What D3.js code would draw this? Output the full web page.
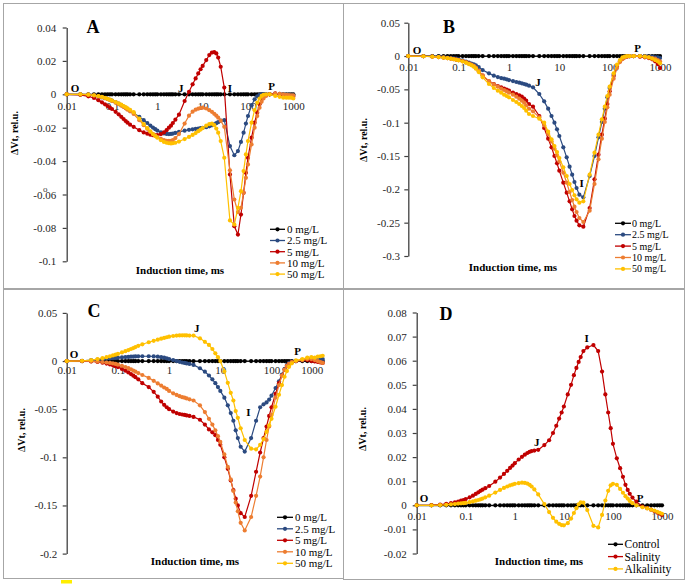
<!DOCTYPE html>
<html><head><meta charset="utf-8">
<script src="https://cdn.jsdelivr.net/npm/d3@7"></script>
<style>body{margin:0;background:#fff} svg{display:block} text{font-family:'Liberation Serif','Times New Roman',serif}</style>
</head><body>
<svg id="c" width="685" height="586"></svg>
<script>
// ---- shared induction time points (ms) ----
const times = [
  0.01,0.02,0.03,0.04,0.05,0.06,0.07,0.08,0.09,0.1,0.12,0.14,0.16,0.18,0.2,0.22,0.25,0.3,
  0.4,0.5,0.6,0.7,0.8,0.9,1,1.2,1.4,1.6,1.8,2,2.2,2.5,3,
  4,5,6,7,8,9,10,12,14,16,18,20,22,25,30,
  40,50,60,70,80,90,100,120,140,160,180,200,220,250,300,
  400,500,600,700,800,900,1000
];
const xTickValues = [0.01,0.1,1,10,100,1000];
const legendConc = ["0 mg/L","2.5 mg/L","5 mg/L","10 mg/L","50 mg/L"];
const legendD = ["Control","Salinity","Alkalinity"];

// control / 0 mg/L series (all zero)
const zeroSeries = [
  0,0,0,0,0,0,0,0,0,0,0,0,0,0,0,0,0,0,
  0,0,0,0,0,0,0,0,0,0,0,0,0,0,0,
  0,0,0,0,0,0,0,0,0,0,0,0,0,0,0,
  0,0,0,0,0,0,0,0,0,0,0,0,0,0,0,
  0,0,0,0,0,0,0
];

// ---- Panel A ----
const yTicksA = [0.04,0.02,0,-0.02,-0.04,-0.06,-0.08,-0.1];
const aBlue = [
  0,-0.0001,-0.0004,-0.0008,-0.0013,-0.0018,-0.0023,-0.0028,-0.0033,-0.0038,-0.0047,-0.0056,-0.0065,-0.0073,-0.0081,-0.0088,-0.0098,-0.0112,
  -0.0135,-0.0155,-0.0172,-0.0187,-0.0199,-0.0209,-0.0217,-0.0228,-0.0234,-0.0237,-0.0238,-0.0237,-0.0235,-0.0231,-0.0225,
  -0.0218,-0.0213,-0.021,-0.0207,-0.0205,-0.0203,-0.0201,-0.0197,-0.0192,-0.0186,-0.018,-0.0173,-0.0167,-0.0158,-0.0155,
  -0.031,-0.0365,-0.034,-0.0285,-0.023,-0.0175,-0.013,-0.0065,-0.003,-0.0012,-0.0004,0,0,0,0,
  0.0003,0.0002,0,-0.0003,-0.0005,-0.0006,-0.0007
];
const aRed = [
  0,-0.0003,-0.0012,-0.0022,-0.0035,-0.0048,-0.006,-0.007,-0.008,-0.0088,-0.0105,-0.012,-0.0135,-0.0148,-0.016,-0.017,-0.0182,-0.0195,
  -0.0215,-0.0228,-0.0236,-0.0242,-0.0245,-0.0246,-0.0245,-0.0238,-0.0228,-0.0215,-0.02,-0.0188,-0.0172,-0.0152,-0.0122,
  -0.004,0.0015,0.006,0.0095,0.0125,0.015,0.017,0.0205,0.0235,0.025,0.0252,0.0245,0.022,0.0165,0.004,
  -0.048,-0.079,-0.084,-0.072,-0.059,-0.047,-0.038,-0.026,-0.017,-0.011,-0.006,-0.003,-0.0015,-0.0005,0,
  0.0005,0,-0.0005,-0.001,-0.0012,-0.0015,-0.0015
];
const aOrange = [
  0,0,-0.0002,-0.0006,-0.0011,-0.0017,-0.0023,-0.0029,-0.0035,-0.004,-0.005,-0.0059,-0.0068,-0.0076,-0.0084,-0.0092,-0.0102,-0.0118,
  -0.0155,-0.0185,-0.0207,-0.0225,-0.0238,-0.0248,-0.0256,-0.0267,-0.0274,-0.0278,-0.0279,-0.0278,-0.0274,-0.0262,-0.0238,
  -0.0175,-0.0128,-0.0104,-0.0092,-0.0086,-0.0082,-0.008,-0.0085,-0.0095,-0.0105,-0.0117,-0.0128,-0.014,-0.0158,-0.0195,
  -0.0455,-0.063,-0.0705,-0.068,-0.059,-0.05,-0.042,-0.03,-0.02,-0.013,-0.008,-0.0045,-0.0025,-0.001,0,
  0.0004,0.0003,0,-0.0003,-0.0005,-0.0006,-0.0006
];
const aYellow = [
  0,0,-0.0002,-0.0006,-0.0011,-0.0016,-0.0021,-0.0027,-0.0032,-0.0037,-0.0046,-0.0054,-0.0062,-0.007,-0.0077,-0.0084,-0.0093,-0.0107,
  -0.0145,-0.0178,-0.0203,-0.0222,-0.0238,-0.025,-0.026,-0.0275,-0.0285,-0.029,-0.0293,-0.0294,-0.0293,-0.029,-0.0283,
  -0.0268,-0.0255,-0.0243,-0.0232,-0.0221,-0.0211,-0.0202,-0.0188,-0.0178,-0.0176,-0.0185,-0.0205,-0.023,-0.028,-0.038,
  -0.0755,-0.078,-0.068,-0.058,-0.046,-0.036,-0.028,-0.017,-0.0095,-0.005,-0.0025,-0.001,-0.0003,0,0,
  -0.001,-0.0015,-0.002,-0.002,-0.002,-0.002,-0.0025
];

// ---- Panel B ----
const yTicksB = [0.05,0,-0.05,-0.1,-0.15,-0.2,-0.25,-0.3];
const bBlue = [
  0,-0.0002,-0.0006,-0.001,-0.0016,-0.0022,-0.0028,-0.0034,-0.004,-0.005,-0.0066,-0.0082,-0.0098,-0.0112,-0.0125,-0.014,-0.0165,-0.021,
  -0.026,-0.0295,-0.0315,-0.033,-0.034,-0.035,-0.036,-0.0375,-0.039,-0.04,-0.041,-0.042,-0.043,-0.0445,-0.047,
  -0.057,-0.068,-0.079,-0.09,-0.1,-0.11,-0.12,-0.137,-0.152,-0.166,-0.178,-0.189,-0.198,-0.208,-0.212,
  -0.18,-0.15,-0.122,-0.099,-0.079,-0.062,-0.048,-0.028,-0.015,-0.007,-0.003,-0.0015,-0.0007,-0.0002,0,
  0,0,-0.001,-0.001,-0.002,-0.002,-0.003
];
const bRed = [
  0,-0.0003,-0.0008,-0.0015,-0.0023,-0.003,-0.0038,-0.0046,-0.0054,-0.0062,-0.0078,-0.0095,-0.0113,-0.0132,-0.015,-0.018,-0.0225,-0.0295,
  -0.038,-0.042,-0.045,-0.047,-0.049,-0.0505,-0.052,-0.055,-0.057,-0.059,-0.061,-0.064,-0.067,-0.072,-0.076,
  -0.09,-0.108,-0.124,-0.137,-0.15,-0.161,-0.172,-0.19,-0.205,-0.218,-0.23,-0.24,-0.247,-0.254,-0.256,
  -0.228,-0.185,-0.148,-0.118,-0.094,-0.072,-0.053,-0.03,-0.016,-0.008,-0.004,-0.002,-0.001,-0.0003,0,
  -0.001,-0.002,-0.003,-0.005,-0.008,-0.012,-0.018
];
const bOrange = [
  0,-0.0003,-0.0008,-0.0015,-0.0022,-0.003,-0.0037,-0.0045,-0.0053,-0.006,-0.0077,-0.0094,-0.0112,-0.013,-0.0148,-0.0175,-0.022,-0.029,
  -0.0375,-0.0425,-0.046,-0.049,-0.051,-0.053,-0.055,-0.058,-0.061,-0.064,-0.067,-0.07,-0.074,-0.079,-0.083,
  -0.092,-0.104,-0.117,-0.128,-0.139,-0.149,-0.158,-0.175,-0.19,-0.204,-0.216,-0.226,-0.234,-0.243,-0.249,
  -0.232,-0.192,-0.155,-0.124,-0.099,-0.077,-0.058,-0.034,-0.018,-0.009,-0.0045,-0.002,-0.001,-0.0003,0,
  0,-0.001,-0.002,-0.003,-0.004,-0.006,-0.008
];
const bYellow = [
  0,-0.0003,-0.0009,-0.0016,-0.0024,-0.0032,-0.004,-0.0048,-0.0056,-0.0065,-0.0082,-0.01,-0.012,-0.014,-0.016,-0.019,-0.024,-0.032,
  -0.042,-0.048,-0.052,-0.055,-0.058,-0.06,-0.062,-0.066,-0.069,-0.072,-0.075,-0.078,-0.082,-0.087,-0.09,
  -0.094,-0.1,-0.1135,-0.125,-0.135,-0.144,-0.153,-0.167,-0.18,-0.192,-0.201,-0.209,-0.215,-0.22,-0.218,
  -0.178,-0.145,-0.118,-0.095,-0.076,-0.06,-0.046,-0.026,-0.013,-0.006,-0.002,-0.001,0,0,0,
  0,-0.001,-0.002,-0.004,-0.006,-0.008,-0.011
];

// ---- Panel C ----
const yTicksC = [0.05,0,-0.05,-0.1,-0.15,-0.2];
const cBlue = [
  0,0.0003,0.001,0.0015,0.002,0.0024,0.0027,0.003,0.0032,0.0035,0.0038,0.0041,0.0043,0.0045,0.0046,0.0048,0.0049,0.005,
  0.005,0.0048,0.0045,0.004,0.0035,0.0028,0.002,0.001,0,-0.0008,-0.0015,-0.002,-0.0025,-0.003,-0.004,
  -0.0075,-0.011,-0.015,-0.019,-0.023,-0.027,-0.031,-0.038,-0.046,-0.054,-0.062,-0.072,-0.08,-0.089,-0.094,
  -0.08,-0.062,-0.048,-0.045,-0.043,-0.04,-0.036,-0.028,-0.021,-0.014,-0.008,-0.004,-0.002,-0.0005,0,
  0.001,0.002,0.002,0.001,0.001,0.0015,0.002
];
const cRed = [
  0,0,-0.0005,-0.001,-0.0018,-0.0026,-0.0035,-0.0044,-0.0053,-0.0063,-0.0082,-0.01,-0.0118,-0.0135,-0.0152,-0.0168,-0.019,-0.023,
  -0.027,-0.032,-0.037,-0.042,-0.0455,-0.048,-0.05,-0.0525,-0.054,-0.055,-0.0555,-0.056,-0.0565,-0.057,-0.058,
  -0.061,-0.066,-0.071,-0.074,-0.077,-0.082,-0.087,-0.1,-0.112,-0.124,-0.134,-0.143,-0.15,-0.158,-0.162,
  -0.14,-0.115,-0.095,-0.08,-0.068,-0.057,-0.048,-0.034,-0.023,-0.015,-0.009,-0.005,-0.003,-0.001,0,
  0.001,0.001,0,-0.0005,-0.001,-0.0015,-0.002
];
const cOrange = [
  0,0,-0.0003,-0.0006,-0.001,-0.0015,-0.002,-0.0025,-0.003,-0.0038,-0.005,-0.0062,-0.0074,-0.0086,-0.0098,-0.011,-0.0125,-0.0145,
  -0.0175,-0.0205,-0.0232,-0.0255,-0.0275,-0.029,-0.031,-0.0335,-0.0352,-0.0365,-0.0375,-0.038,-0.0388,-0.0398,-0.041,
  -0.046,-0.053,-0.06,-0.066,-0.072,-0.078,-0.084,-0.097,-0.11,-0.123,-0.135,-0.147,-0.156,-0.168,-0.176,
  -0.162,-0.14,-0.12,-0.1,-0.082,-0.068,-0.056,-0.038,-0.025,-0.015,-0.009,-0.005,-0.003,-0.001,0,
  0.001,0.002,0.002,0.001,0,-0.001,-0.002
];
const cYellow = [
  0,0.0003,0.001,0.002,0.003,0.004,0.0049,0.0058,0.0066,0.0074,0.0089,0.0102,0.0114,0.0125,0.0135,0.0145,0.0158,0.0174,
  0.0195,0.021,0.0222,0.0232,0.024,0.0247,0.0253,0.026,0.0264,0.0266,0.0267,0.0267,0.0266,0.0265,0.0264,
  0.0236,0.02,0.0167,0.0125,0.008,0.004,0,-0.0108,-0.0226,-0.033,-0.041,-0.052,-0.059,-0.0698,-0.082,
  -0.091,-0.0917,-0.087,-0.081,-0.0735,-0.0667,-0.06,-0.0475,-0.035,-0.025,-0.0163,-0.0104,-0.006,-0.0024,0.0007,
  0.002,0.0035,0.004,0.0035,0.0045,0.005,0.0055
];

// ---- Panel D ----
const yTicksD = [0.08,0.07,0.06,0.05,0.04,0.03,0.02,0.01,0,-0.01,-0.02];
const dSalinity = [
  0,0.0001,0.0003,0.0006,0.0009,0.0012,0.0015,0.0019,0.0022,0.0026,0.0033,0.004,0.0047,0.0054,0.006,0.0065,0.0071,0.008,
  0.0098,0.0115,0.013,0.0143,0.0155,0.0165,0.0175,0.019,0.0201,0.021,0.0217,0.0222,0.0225,0.0227,0.023,
  0.025,0.027,0.03,0.033,0.036,0.0385,0.041,0.046,0.05,0.054,0.057,0.0595,0.0615,0.064,0.0655,
  0.0665,0.064,0.0555,0.046,0.0385,0.032,0.0255,0.0195,0.0154,0.0118,0.0085,0.0064,0.0048,0.0032,0.0015,
  -0.0005,-0.0012,-0.0018,-0.0024,-0.003,-0.0035,-0.004
];
const dAlkalinity = [
  0,0,0.0001,0.0002,0.0004,0.0005,0.0007,0.0008,0.0009,0.001,0.0013,0.0016,0.0019,0.0022,0.0025,0.0028,0.0033,0.004,
  0.0053,0.0064,0.0072,0.0078,0.0083,0.0086,0.0089,0.0092,0.0094,0.0093,0.009,0.0085,0.0078,0.0066,0.0045,
  0.0005,-0.0028,-0.0052,-0.0068,-0.0077,-0.0082,-0.0083,-0.0074,-0.0055,-0.0032,-0.0012,0.0004,0.0012,0.0011,-0.002,
  -0.0085,-0.0092,-0.004,0.002,0.006,0.0083,0.0089,0.0085,0.0068,0.0052,0.0038,0.0028,0.0018,0.0009,0,
  -0.0008,-0.0013,-0.0018,-0.0022,-0.0027,-0.0031,-0.0035
];

// ---- styling ----
const C_BLACK = "#000000", C_BLUE = "#2b4a80", C_RED = "#c00000", C_ORANGE = "#ed7d31", C_YELLOW = "#ffc000";
const fmt = d => String(+(+d).toFixed(4));
const svg = d3.select("#c");

// panel frames
const frames = [[3,3,340,285],[343,3,341,285],[3,289,340,289],[343,289,341,290]];
svg.selectAll("rect.frame").data(frames).join("rect").attr("class","frame")
  .attr("x",d=>d[0]+0.5).attr("y",d=>d[1]+0.5).attr("width",d=>d[2]).attr("height",d=>d[3])
  .attr("fill","none").attr("stroke","#a6a6a6").attr("stroke-width",1);

const panels = [
  { letter:"A", letterPos:[93,33], xr:[66.7,293.3], yd:[-0.1,0.04], yr:[261.3,27.5], yTicks:yTicksA,
    yPad:6.5, xPad:7.5, lastDx:0,
    series:[zeroSeries,aBlue,aRed,aOrange,aYellow], colors:[C_BLACK,C_BLUE,C_RED,C_ORANGE,C_YELLOW],
    labels:legendConc, leg:{x0:270,x1:285,tx:287,y0:229.3,dy:11.2,fs:11},
    ytitle:[14,133], xtitle:[180,270],
    pts:[["O",0.0153,0.0038],["J",3.27,0.0038],["I",40,0.0038],["P",334,0.005]] },
  { letter:"B", letterPos:[449,33], xr:[408.3,660], yd:[-0.3,0.05], yr:[256,22.7], yTicks:yTicksB,
    yPad:4.3, xPad:7.5, lastDx:0,
    series:[zeroSeries,bBlue,bRed,bOrange,bYellow], colors:[C_BLACK,C_BLUE,C_RED,C_ORANGE,C_YELLOW],
    labels:legendConc, leg:{x0:615,x1:631,tx:632,y0:223.3,dy:11.4,fs:10},
    ytitle:[363,140], xtitle:[513,267],
    pts:[["O",0.0149,0.009],["J",3.77,-0.039],["I",27.8,-0.191],["P",360,0.012]] },
  { letter:"C", letterPos:[94,317], xr:[66.7,322.7], yd:[-0.2,0.05], yr:[553.6,312.9], yTicks:yTicksC,
    yPad:5.4, xPad:5, lastDx:-11,
    series:[zeroSeries,cBlue,cRed,cOrange,cYellow], colors:[C_BLACK,C_BLUE,C_RED,C_ORANGE,C_YELLOW],
    labels:legendConc, leg:{x0:277,x1:293,tx:295,y0:517.3,dy:11.5,fs:11},
    ytitle:[21.7,430], xtitle:[195,561],
    pts:[["O",0.0139,0.0073],["J",3.46,0.0346],["I",35.2,-0.053],["P",325,0.0104]] },
  { letter:"D", letterPos:[446,320], xr:[416.7,662], yd:[-0.02,0.08], yr:[553.5,312.5], yTicks:yTicksD,
    yPad:6, xPad:6.5, lastDx:0,
    series:[zeroSeries,dSalinity,dAlkalinity], colors:[C_BLACK,C_RED,C_YELLOW],
    labels:legendD, leg:{x0:608,x1:623,tx:624.5,y0:544.3,dy:12.3,fs:11.5},
    ytitle:[362.7,429], xtitle:[539,561],
    pts:[["O",0.0141,0.003],["J",2.79,0.026],["I",29.2,0.0694],["P",356,0.003]] }
];

panels.forEach(p => {
  const x = d3.scaleLog().domain([0.01,1000]).range(p.xr);
  const y = d3.scaleLinear().domain(p.yd).range(p.yr);
  const g = svg.append("g");

  // x axis at y=0
  const xa = g.append("g").attr("transform",`translate(0,${y(0)})`)
    .call(d3.axisBottom(x).tickValues(xTickValues).tickFormat(fmt).tickSize(0).tickSizeOuter(0).tickPadding(p.xPad));
  xa.select(".domain").attr("stroke","#595959").attr("stroke-width",1);
  xa.selectAll("text").attr("font-size",11).attr("fill","#262626")
    .attr("font-family","'Liberation Serif','Times New Roman',serif")
    .attr("dx",(d,i)=> i===xTickValues.length-1 ? p.lastDx : 0);

  // y axis
  const ya = g.append("g").attr("transform",`translate(${x(0.01)},0)`)
    .call(d3.axisLeft(y).tickValues(p.yTicks).tickFormat(fmt).tickSize(4).tickSizeOuter(0).tickPadding(p.yPad));
  ya.select(".domain").attr("stroke","#404040").attr("stroke-width",1.3);
  ya.selectAll("line").attr("stroke","#404040").attr("stroke-width",1.2);
  ya.selectAll("text").attr("font-size",11).attr("fill","#262626")
    .attr("font-family","'Liberation Serif','Times New Roman',serif");

  // titles
  g.append("text").attr("transform",`translate(${p.ytitle[0]},${p.ytitle[1]}) rotate(-90)`)
    .attr("text-anchor","middle").attr("dy","0.35em").attr("font-size",10).attr("font-weight","bold")
    .text("ΔVt, rel.u.");
  g.append("text").attr("x",p.xtitle[0]).attr("y",p.xtitle[1]).attr("dy","0.35em")
    .attr("text-anchor","middle").attr("font-size",11).attr("font-weight","bold")
    .text("Induction time, ms");

  // series
  const line = d3.line().x(d=>x(d[0])).y(d=>y(d[1]));
  p.series.forEach((vals,k) => {
    const pts = times.map((t,i)=>[t, vals[i]]).filter(d=>d[1]!==undefined);
    const col = p.colors[k];
    g.append("path").datum(pts).attr("d",line).attr("fill","none").attr("stroke",col).attr("stroke-width",1.2);
    g.append("g").selectAll("circle").data(pts).join("circle")
      .attr("cx",d=>x(d[0])).attr("cy",d=>y(d[1])).attr("r",2.1).attr("fill",col);
  });

  // O J I P labels
  g.selectAll("text.pt").data(p.pts).join("text").attr("class","pt")
    .attr("x",d=>x(d[1])).attr("y",d=>y(d[2])).attr("dy","0.35em").attr("text-anchor","middle")
    .attr("font-size",11).attr("font-weight","bold").text(d=>d[0]);

  // legend
  const L = p.leg;
  const lg = g.append("g").selectAll("g").data(p.labels).join("g")
    .attr("transform",(d,i)=>`translate(0,${L.y0 + i*L.dy})`);
  lg.append("line").attr("x1",L.x0).attr("x2",L.x1).attr("y1",0).attr("y2",0)
    .attr("stroke",(d,i)=>p.colors[i]).attr("stroke-width",1.3);
  lg.append("circle").attr("cx",(L.x0+L.x1)/2).attr("cy",0).attr("r",2.1).attr("fill",(d,i)=>p.colors[i]);
  lg.append("text").attr("x",L.tx).attr("y",0).attr("dy","0.35em").attr("font-size",L.fs).text(d=>d);

  // panel letter
  g.append("text").attr("x",p.letterPos[0]).attr("y",p.letterPos[1]).attr("text-anchor","middle")
    .attr("font-size",18).attr("font-weight","bold").text(p.letter);
});

// small stray mark near the -0.06 label in A and the yellow mark under C (present in the source figure)
svg.append("text").attr("x",43).attr("y",192).attr("font-size",9).attr("fill","#404040").text("o");
svg.append("rect").attr("x",61).attr("y",580).attr("width",11).attr("height",3.5).attr("fill","#ffee00");
</script>
</body></html>
